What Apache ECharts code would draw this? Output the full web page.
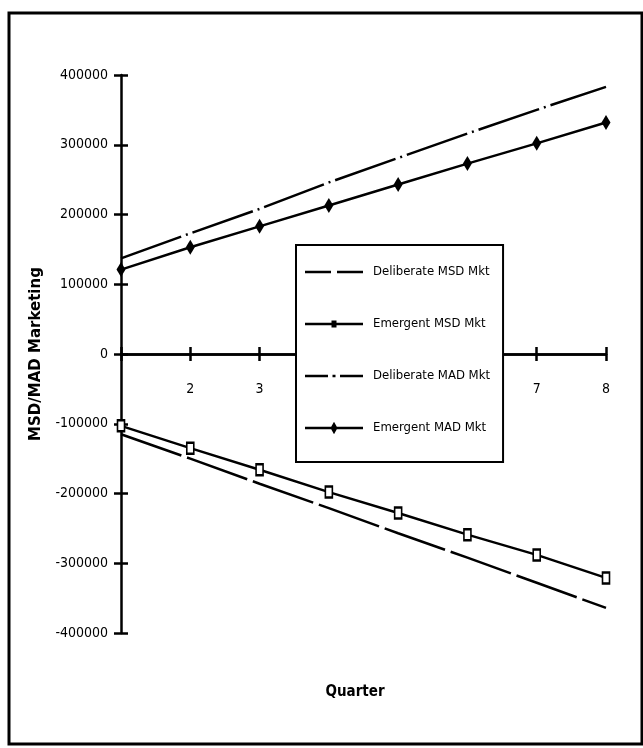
<!DOCTYPE html>
<html>
<head>
<meta charset="utf-8">
<script src="https://cdn.jsdelivr.net/npm/echarts@6/dist/echarts.min.js"></script>
<style>
html,body{margin:0;padding:0;background:#fff;}
#chart{width:643px;height:748px;}
</style>
</head>
<body>
<div id="chart"></div>
<script>
var quarters = [1, 2, 3, 4, 5, 6, 7, 8];
var deliberateMAD = [137000, 173000, 208000, 246000, 281000, 316000, 350000, 383000];
var emergentMAD = [121000, 153000, 183000, 213000, 243000, 273000, 302000, 332000];
var deliberateMSD = [-115000, -150000, -186000, -221000, -257000, -292000, -328000, -364000];
var emergentMSD = [-103000, -135000, -166000, -198000, -228000, -259000, -288000, -321000];
var yTicks = [-400000, -300000, -200000, -100000, 0, 100000, 200000, 300000, 400000];
var xTickLabels = ['', '2', '3', '4', '5', '6', '7', '8'];
var seriesNames = ['Deliberate MSD Mkt', 'Emergent MSD Mkt', 'Deliberate MAD Mkt', 'Emergent MAD Mkt'];

function pairs(vals) { return quarters.map(function (q, i) { return [q, vals[i]]; }); }

var narrow = '"Liberation Sans Narrow", "DejaVu Sans Condensed", sans-serif';
var GRID_TOP = 75, GRID_BOTTOM = 115, H = 748;
var gridH = H - GRID_TOP - GRID_BOTTOM;
var zeroOffset = -gridH / 2; // put the x axis on the zero line

// legend icon paths (58 x 14 box)
var box = 'M0,0L0.05,0L0,0.05Z M0,14L0.05,14L0,13.95Z ';
var iconDashed = 'path://' + box + 'M0,5.8L26,5.8L26,8.2L0,8.2Z M32,5.8L58,5.8L58,8.2L32,8.2Z';
var iconSquare = 'path://' + box + 'M0,5.8L58,5.8L58,8.2L0,8.2Z M26.5,3.5L31.5,3.5L31.5,10.5L26.5,10.5Z';
var iconDashDot = 'path://' + box + 'M0,5.8L23,5.8L23,8.2L0,8.2Z M27.5,5.8L30.5,5.8L30.5,8.2L27.5,8.2Z M35,5.8L58,5.8L58,8.2L35,8.2Z';
var iconDiamond = 'path://' + box + 'M0,5.8L58,5.8L58,8.2L0,8.2Z M29,0.8L32.5,7L29,13.2L25.5,7Z';
var legendItemStyle = { color: '#000', borderWidth: 0, opacity: 1 };

var chart = echarts.init(document.getElementById('chart'));
var option = {
  backgroundColor: '#fff',
  animation: false,
  grid: { left: 121, right: 37, top: GRID_TOP, bottom: GRID_BOTTOM, containLabel: false },
  xAxis: [{
    type: 'value', min: 1, max: 8, interval: 1, position: 'bottom', offset: zeroOffset,
    axisLine: { onZero: false, lineStyle: { color: '#000', width: 2.5 } },
    axisTick: { show: true, length: 7, lineStyle: { color: '#000', width: 2.5 } },
    axisLabel: { margin: 28, color: '#000', fontSize: 14, fontFamily: narrow,
      formatter: function (v) { return xTickLabels[quarters.indexOf(v)] || ''; } },
    splitLine: { show: false }
  }, {
    type: 'value', min: 1, max: 8, interval: 1, position: 'bottom', offset: zeroOffset,
    axisLine: { onZero: false, lineStyle: { color: '#000', width: 2.5 } },
    axisTick: { show: true, inside: true, length: 7, lineStyle: { color: '#000', width: 2.5 } },
    axisLabel: { show: false },
    splitLine: { show: false }
  }],
  yAxis: [{
    type: 'value', min: -400000, max: 400000, interval: 100000,
    name: 'MSD/MAD Marketing', nameLocation: 'middle', nameGap: 77,
    nameTextStyle: { color: '#000', fontSize: 15, fontWeight: 'bold', fontFamily: '"DejaVu Sans", sans-serif' },
    axisLine: { show: true, onZero: false, lineStyle: { color: '#000', width: 2.5 } },
    axisTick: { show: true, length: 7, lineStyle: { color: '#000', width: 2.5 } },
    axisLabel: { margin: 13, color: '#000', fontSize: 14, fontFamily: narrow,
      formatter: function (v) { return yTicks.indexOf(v) >= 0 ? String(v) : ''; } },
    splitLine: { show: false }
  }, {
    type: 'value', min: -400000, max: 400000, interval: 100000, position: 'left',
    axisLine: { show: false },
    axisTick: { show: true, inside: true, length: 7, lineStyle: { color: '#000', width: 2.5 } },
    axisLabel: { show: false },
    splitLine: { show: false }
  }],
  legend: {
    orient: 'vertical', left: 296, top: 245, z: 10,
    padding: [20, 13, 27, 9], itemGap: 38, itemWidth: 58, itemHeight: 14,
    backgroundColor: '#fff', borderColor: '#000', borderWidth: 2, borderRadius: 0,
    textStyle: { color: '#000', fontSize: 13, fontFamily: narrow, padding: [0, 0, 0, 5] },
    data: [
      { name: seriesNames[0], icon: iconDashed, itemStyle: legendItemStyle },
      { name: seriesNames[1], icon: iconSquare, itemStyle: legendItemStyle },
      { name: seriesNames[2], icon: iconDashDot, itemStyle: legendItemStyle },
      { name: seriesNames[3], icon: iconDiamond, itemStyle: legendItemStyle }
    ]
  },
  graphic: [
    { type: 'rect', shape: { x: 9, y: 13, width: 633, height: 731 },
      style: { fill: 'none', stroke: '#000', lineWidth: 3 }, z: 100 },
    { type: 'text', x: 355, y: 692, style: { text: 'Quarter', fill: '#000', fontSize: 15, fontWeight: 'bold',
      fontFamily: narrow, align: 'center', verticalAlign: 'middle' } }
  ],
  series: [
    { name: seriesNames[0], type: 'line', data: pairs(deliberateMSD), showSymbol: false, symbol: 'none',
      lineStyle: { color: '#000', width: 2.5, type: [64, 6] }, itemStyle: { color: '#000' } },
    { name: seriesNames[1], type: 'line', data: pairs(emergentMSD), symbol: 'rect', symbolSize: [7, 11],
      lineStyle: { color: '#000', width: 2.5 }, itemStyle: { color: '#fff', borderColor: '#000', borderWidth: 2 } },
    { name: seriesNames[2], type: 'line', data: pairs(deliberateMAD), showSymbol: false, symbol: 'none',
      lineStyle: { color: '#000', width: 2.5, type: [64, 5, 2, 5] }, itemStyle: { color: '#000' } },
    { name: seriesNames[3], type: 'line', data: pairs(emergentMAD), symbol: 'diamond', symbolSize: [9, 15],
      lineStyle: { color: '#000', width: 2.5 }, itemStyle: { color: '#000' } }
  ]
};
chart.setOption(option);
</script>
</body>
</html>
